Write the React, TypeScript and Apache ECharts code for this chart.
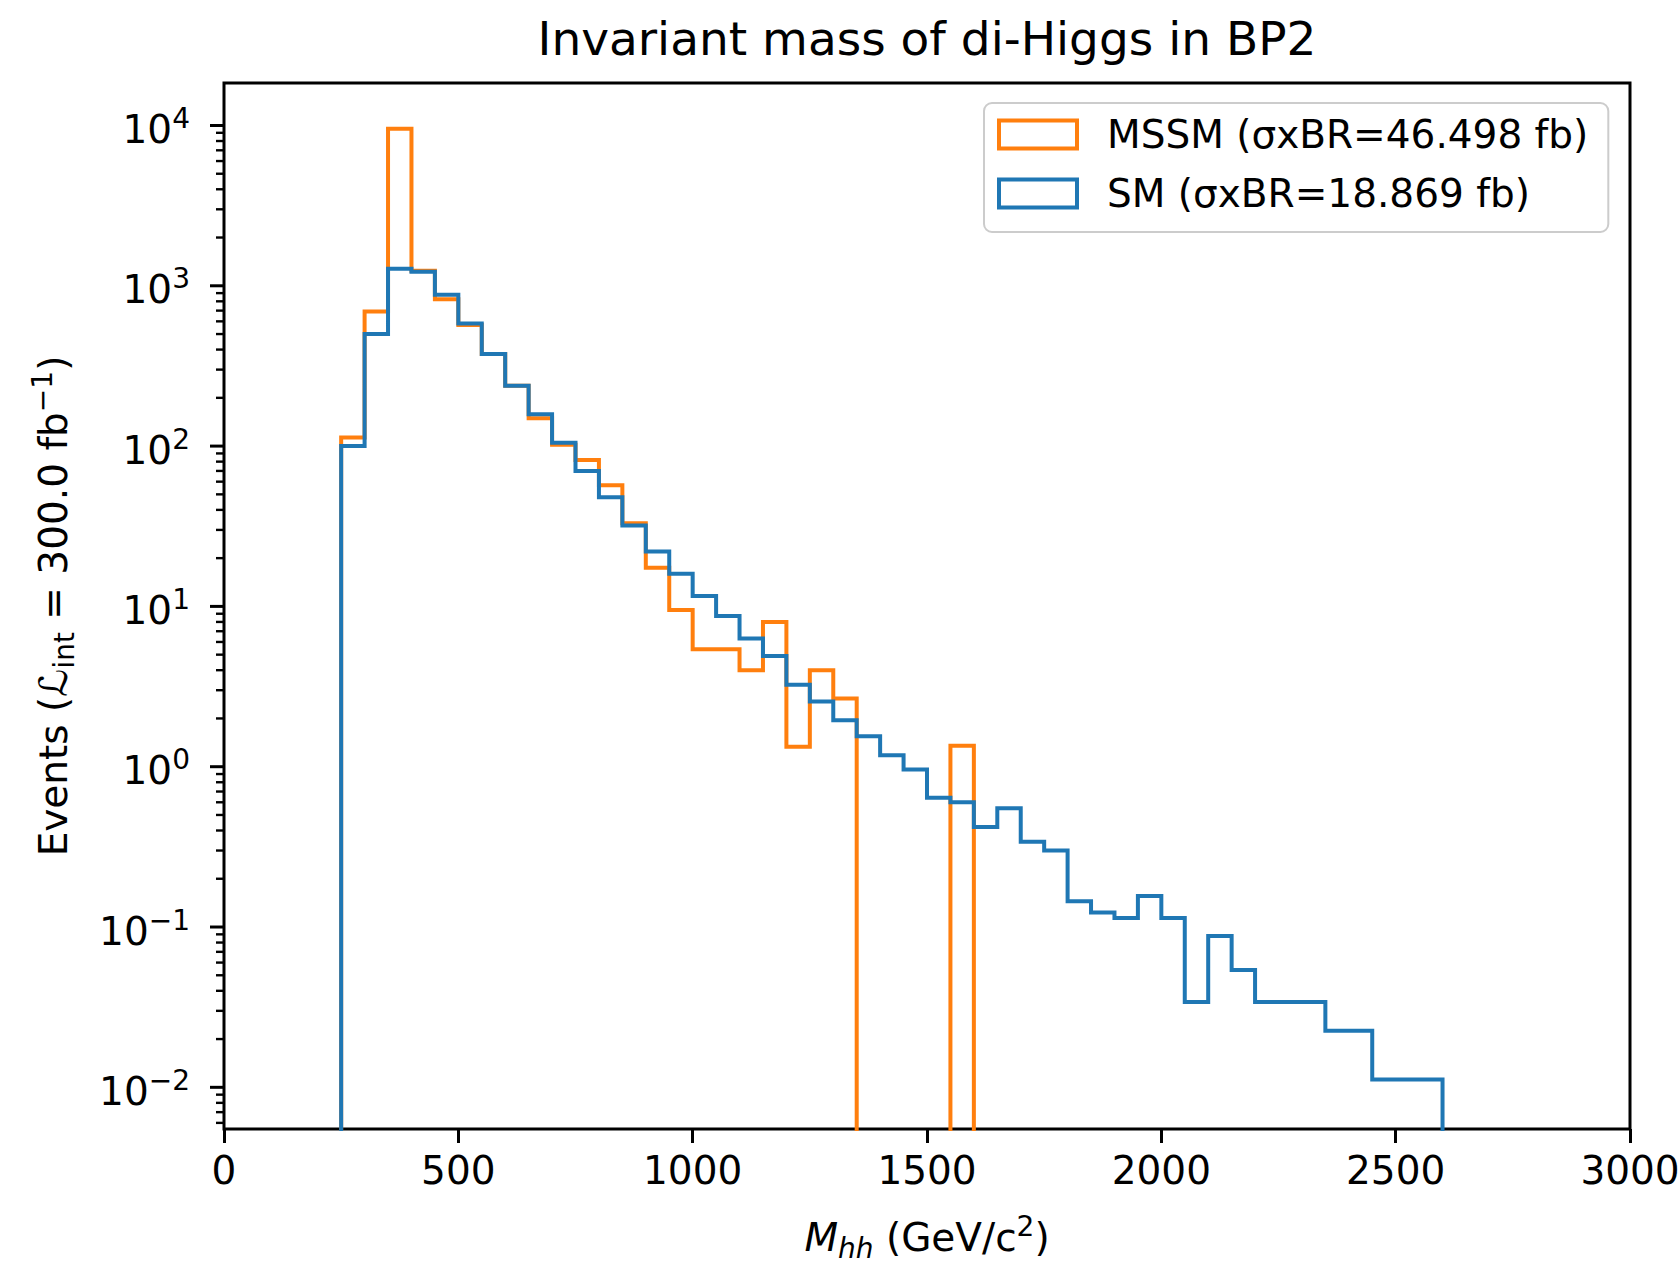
import React, { useEffect, useRef } from "react";
import * as echarts from "echarts";

// ---- data ----
const TITLE = "Invariant mass of di-Higgs in BP2";
const MSSM_LABEL = "MSSM (σxBR=46.498 fb)";
const SM_LABEL = "SM (σxBR=18.869 fb)";

const BIN_START = 250; // GeV/c^2, lower edge of first bin
const BIN_WIDTH = 50;

// MSSM events per bin (bins from 250, width 50); 0 = empty bin
const MSSM_VALUES = [
  113, 690, 9530, 1240, 824, 569, 375, 238, 149, 102,
  82, 57, 33, 17.4, 9.5, 5.4, 5.4, 4.0, 8.0, 1.33,
  4.0, 2.66, 0, 0, 0, 0, 1.35,
];

// SM events per bin (bins from 250, width 50)
const SM_VALUES = [
  100, 500, 1275, 1225, 880, 582, 375, 238, 158, 105,
  70, 48, 32, 22, 16, 11.6, 8.7, 6.3, 4.9, 3.25,
  2.55, 1.95, 1.55, 1.18, 0.96, 0.64, 0.6, 0.42, 0.55, 0.34,
  0.3, 0.145, 0.123, 0.114, 0.156, 0.114, 0.034, 0.088, 0.054, 0.034,
  0.034, 0.034, 0.0225, 0.0225, 0.0112, 0.0112, 0.0112,
];

const X_MIN = 0;
const X_MAX = 3000;
const X_INTERVAL = 500;
const Y_MIN = Math.pow(10, -2.26);
const Y_MAX = Math.pow(10, 4.265);
const Y_TICK_EXPONENTS = [-2, -1, 0, 1, 2, 3, 4];
const MINOR_MULTIPLIERS = [2, 3, 4, 5, 6, 7, 8, 9];

// ---- style ----
const ORANGE = "#ff7f0e";
const BLUE = "#1f77b4";
const FONT = "DejaVu Sans";
const GRID = { left: 224, top: 83, width: 1406, height: 1046 };

function outline(values: number[]) {
  const floor = Y_MIN / 3;
  const pts: [number, number][] = [];
  pts.push([BIN_START, floor]);
  values.forEach((v, i) => {
    pts.push([BIN_START + i * BIN_WIDTH, v > 0 ? v : floor]);
  });
  const last = values[values.length - 1];
  const endEdge = BIN_START + values.length * BIN_WIDTH;
  pts.push([endEdge, last > 0 ? last : floor]);
  pts.push([endEdge, floor]);
  return pts;
}

function expText(e: number) {
  return e < 0 ? "\u2212" + String(-e) : String(e);
}

export default function App() {
  const ref = useRef<HTMLDivElement>(null);

  useEffect(() => {
    if (!ref.current) return;
    const chart = echarts.init(ref.current, null, { renderer: "svg" });

    chart.setOption({
      animation: false,
      backgroundColor: "#ffffff",
      textStyle: { fontFamily: FONT },
      grid: {
        ...GRID,
        show: true,
        borderColor: "#000",
        borderWidth: 3,
        backgroundColor: "transparent",
        containLabel: false,
        outerBoundsMode: "none",
      },
      legend: {
        orient: "vertical",
        left: 984,
        top: 103,
        data: [
          {
            name: MSSM_LABEL,
            icon: "rect",
            itemStyle: { color: "#ffffff", borderColor: ORANGE, borderWidth: 4 },
          },
          {
            name: SM_LABEL,
            icon: "rect",
            itemStyle: { color: "#ffffff", borderColor: BLUE, borderWidth: 4 },
          },
        ],
        itemWidth: 78,
        itemHeight: 28,
        itemGap: 20,
        padding: [12, 20, 19, 13],
        backgroundColor: "rgba(255,255,255,0.8)",
        borderColor: "#cccccc",
        borderWidth: 2,
        borderRadius: 8,
        selectedMode: false,
        textStyle: {
          fontSize: 39,
          fontFamily: FONT,
          color: "#000",
          padding: [0, 0, 0, 25],
        },
      },
      xAxis: {
        type: "value",
        min: X_MIN,
        max: X_MAX,
        interval: X_INTERVAL,
        axisLine: { show: false },
        axisTick: { show: true, length: 14, lineStyle: { color: "#000", width: 3 } },
        axisLabel: {
          fontSize: 39,
          color: "#000",
          margin: 22,
          fontFamily: FONT,
          formatter: (v: number) => String(v),
        },
        splitLine: { show: false },
      },
      yAxis: {
        type: "log",
        logBase: 10,
        min: Y_MIN,
        max: Y_MAX,
        axisLine: { show: false },
        axisTick: { show: false },
        axisLabel: { show: false },
        splitLine: { show: false },
        minorTick: { show: false },
      },
      series: [
        {
          type: "line",
          name: MSSM_LABEL,
          data: outline(MSSM_VALUES),
          step: "end",
          symbol: "none",
          showSymbol: false,
          clip: true,
          lineStyle: { color: ORANGE, width: 4, join: "miter", cap: "butt" },
          itemStyle: { color: ORANGE },
          z: 2,
        },
        {
          type: "line",
          name: SM_LABEL,
          data: outline(SM_VALUES),
          step: "end",
          symbol: "none",
          showSymbol: false,
          clip: true,
          lineStyle: { color: BLUE, width: 4, join: "miter", cap: "butt" },
          itemStyle: { color: BLUE },
          z: 3,
        },
      ],
    });

    const xLeft = chart.convertToPixel({ xAxisIndex: 0 }, X_MIN) as number;
    const xRight = chart.convertToPixel({ xAxisIndex: 0 }, X_MAX) as number;
    const xMid = (xLeft + xRight) / 2;
    const yTop = chart.convertToPixel({ yAxisIndex: 0 }, Y_MAX) as number;
    const yBottom = chart.convertToPixel({ yAxisIndex: 0 }, Y_MIN) as number;
    const yMid = (yTop + yBottom) / 2;

    const elements: any[] = [];

    // y major ticks + labels
    Y_TICK_EXPONENTS.forEach((e) => {
      const y = chart.convertToPixel({ yAxisIndex: 0 }, Math.pow(10, e)) as number;
      elements.push({
        type: "line",
        shape: { x1: xLeft - 14, y1: y, x2: xLeft, y2: y },
        style: { stroke: "#000", lineWidth: 3 },
        z: 10,
      });
      elements.push({
        type: "text",
        x: xLeft - 34,
        y: y + 4,
        z: 10,
        style: {
          text: `{b|10}{s|${expText(e)}}`,
          align: "right",
          verticalAlign: "middle",
          textAlign: "right",
          textVerticalAlign: "middle",
          fill: "#000",
          rich: {
            b: { fontSize: 39, fontFamily: FONT, lineHeight: 50, fill: "#000", color: "#000" },
            s: {
              fontSize: 28,
              fontFamily: FONT,
              lineHeight: 28,
              height: 28,
              verticalAlign: "top",
              fill: "#000",
              color: "#000",
            },
          },
        },
      });
    });

    // y minor ticks
    for (let d = -3; d <= 4; d++) {
      MINOR_MULTIPLIERS.forEach((m) => {
        const v = m * Math.pow(10, d);
        if (v <= Y_MIN || v >= Y_MAX) return;
        const y = chart.convertToPixel({ yAxisIndex: 0 }, v) as number;
        elements.push({
          type: "line",
          shape: { x1: xLeft - 8, y1: y, x2: xLeft, y2: y },
          style: { stroke: "#000", lineWidth: 2.4 },
          z: 10,
        });
      });
    }

    // title
    elements.push({
      type: "text",
      x: xMid,
      y: 38,
      style: {
        text: TITLE,
        fontSize: 47,
        fontFamily: FONT,
        fill: "#000",
        align: "center",
        verticalAlign: "middle",
        textAlign: "center",
        textVerticalAlign: "middle",
      },
    });

    // x axis label
    elements.push({
      type: "text",
      x: xMid,
      y: 1237,
      style: {
        text: "{mi|M}{sub|hh}{n| (GeV/c}{sup|2}{n|)}",
        align: "center",
        verticalAlign: "middle",
        textAlign: "center",
        textVerticalAlign: "middle",
        fill: "#000",
        rich: {
          n: { fontSize: 39, fontFamily: FONT, lineHeight: 50, fill: "#000" },
          mi: { fontSize: 39, fontFamily: FONT, fontStyle: "italic", lineHeight: 50, fill: "#000" },
          sub: {
            fontSize: 28,
            fontFamily: FONT,
            fontStyle: "italic",
            lineHeight: 28,
            height: 28,
            verticalAlign: "bottom",
            fill: "#000",
          },
          sup: {
            fontSize: 28,
            fontFamily: FONT,
            lineHeight: 28,
            height: 28,
            verticalAlign: "top",
            fill: "#000",
          },
        },
      },
    });

    // y axis label
    elements.push({
      type: "text",
      x: 53,
      y: yMid,
      rotation: Math.PI / 2,
      style: {
        text: "{n|Events (}{i|ℒ}{sub|int}{n| = 300.0 fb}{sup|\u22121}{n|)}",
        align: "center",
        verticalAlign: "middle",
        textAlign: "center",
        textVerticalAlign: "middle",
        fill: "#000",
        rich: {
          n: { fontSize: 39, fontFamily: FONT, lineHeight: 50, fill: "#000" },
          i: { fontSize: 39, fontFamily: FONT, fontStyle: "italic", lineHeight: 50, fill: "#000" },
          sub: {
            fontSize: 28,
            fontFamily: FONT,
            lineHeight: 28,
            height: 28,
            verticalAlign: "bottom",
            fill: "#000",
          },
          sup: {
            fontSize: 28,
            fontFamily: FONT,
            lineHeight: 28,
            height: 28,
            verticalAlign: "top",
            fill: "#000",
          },
        },
      },
    });

    chart.setOption({ graphic: { elements } });

    return () => chart.dispose();
  }, []);

  return (
    <div
      ref={ref}
      style={{ position: "absolute", left: 0, top: 0, width: 1680, height: 1263 }}
    />
  );
}
